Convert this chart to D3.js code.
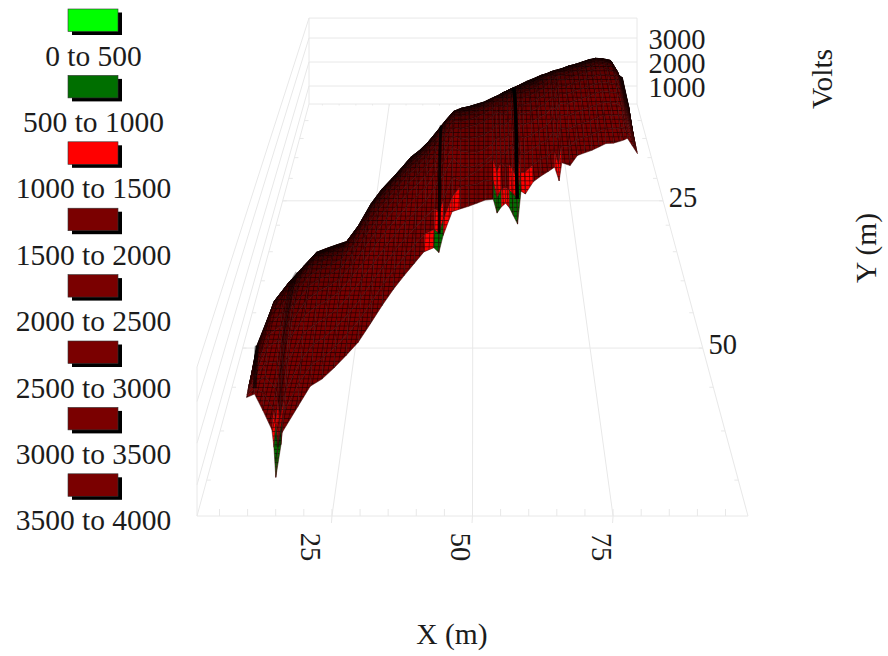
<!DOCTYPE html>
<html>
<head>
<meta charset="utf-8">
<script src="https://cdnjs.cloudflare.com/ajax/libs/d3/7.8.5/d3.min.js"></script>
<style>
  html,body { margin:0; padding:0; background:#fff; }
  text { font-family: "Liberation Serif", serif; font-size: 29.5px; fill: #1c1c1c; }
  text.tick { font-size: 28.5px; }
</style>
</head>
<body>
<div id="chart"></div>
<script>
// legend bands
const legendLabels = ["0 to 500","500 to 1000","1000 to 1500","1500 to 2000","2000 to 2500","2500 to 3000","3000 to 3500","3500 to 4000"];
const bandColors = ["#00ff00","#006f00","#ff0000","#7a0000","#7a0000","#7a0000","#7a0000","#7a0000"];
const bandLimits = [500,1000,1500,2000,2500,3000,3500];

const xTicks = [25,50,75];
const xTickShift = [-21,-12,-12];
const yTicks = [25,50];
const voltTicks = [1000,2000,3000];

// surface: one station per X (m), each running from backY to frontY (m)
const stationX = [7,9,11,13,13.5,14,14.5,15,17,19,21,23,25,27,29,31,33,35,37,39,41,42,43,45,47,49,51,53,55,56,57,58,59,60,61,62,63,65,67,69,71,72,73,75,77,79,81,83,85,87,89,90,91,92,93];
const backY = [60.1,61.8,56.6,53.2,52.6,51.9,51.55,50.8,48.9,48.4,47.9,47.5,44.7,40.7,38,36.1,34,31.7,30.3,28.4,26.2,25.1,23.7,21.6,20.4,20,19.4,18.9,18,17.7,17,16.2,15.8,15.3,14.8,14.5,13.9,12.9,12.1,11.2,10.8,10.1,10.1,9.3,8.5,8,7.3,6.6,6.2,6.4,7,11.45,15,17.6,17.5];
const frontY = [62,63.1,64.2,65,65.3,65.7,64.5,65.3,62.8,61.6,60.8,59.5,58,56.4,54,51.5,49.2,47.2,45.3,43.4,40,37.6,37.3,34,35.8,35.3,34.7,33.5,32.2,30.8,31.9,33,32.1,31.3,31.8,29.9,30.8,30.4,29.2,28.2,25.4,26.5,24.4,25.3,24.6,24,23.4,22.6,21.8,21.7,21.2,20.9,20.5,21.7,22.9];
// volts at the 15 nodes of each station, back to front
const stationVolts = [
  [1500,1550,1600,1620,1640,1650,1660,1660,1660,1650,1640,1630,1620,1610,1600],
  [2500,2700,2900,2950,2900,2850,2800,2700,2600,2500,2400,2300,2200,2080,1950],
  [2750,2980,3210,3330,3400,3440,3420,3360,3250,3100,2900,2650,2400,2100,1800],
  [2760,2980,3200,3330,3440,3510,3530,3480,3350,3180,3000,2600,2150,1800,1510],
  [2760,2980,3200,3325,3435,3505,3525,3475,3345,3165,2950,2550,1900,1500,1145],
  [2760,2980,3200,3320,3430,3500,3520,3470,3340,3150,2900,2500,1500,1000,500],
  [2760,2980,3200,3320,3430,3505,3525,3475,3350,3165,2925,2550,1900,1500,1010],
  [2760,2980,3200,3320,3430,3510,3530,3480,3360,3180,2950,2600,2100,1800,1510],
  [2760,2980,3200,3330,3440,3520,3550,3510,3400,3240,3030,2750,2300,1950,1550],
  [2760,2980,3200,3330,3440,3520,3560,3530,3430,3280,3080,2800,2480,2150,1800],
  [2760,2980,3200,3330,3440,3520,3560,3530,3440,3290,3090,2820,2500,2160,1800],
  [2770,2990,3200,3330,3440,3520,3550,3520,3430,3290,3090,2830,2510,2170,1800],
  [2780,2990,3200,3320,3430,3510,3550,3520,3440,3300,3100,2840,2520,2170,1800],
  [2790,3000,3200,3320,3430,3510,3550,3530,3440,3300,3100,2840,2530,2180,1800],
  [2800,3000,3200,3320,3430,3510,3550,3530,3440,3300,3100,2840,2530,2180,1800],
  [2800,3000,3200,3320,3430,3510,3550,3530,3440,3300,3100,2840,2530,2180,1800],
  [2800,3000,3200,3320,3430,3510,3550,3520,3430,3290,3090,2830,2520,2170,1800],
  [2810,3010,3200,3320,3420,3500,3540,3520,3430,3290,3090,2830,2520,2170,1800],
  [2810,3010,3200,3320,3420,3500,3530,3510,3420,3280,3080,2820,2510,2170,1800],
  [2820,3010,3200,3310,3420,3500,3530,3500,3410,3270,3060,2790,2480,2150,1800],
  [2820,3010,3200,3310,3410,3480,3510,3480,3380,3220,3000,2720,2200,1700,1300],
  [2840,3020,3200,3310,3400,3470,3490,3450,3340,3170,2940,2640,1700,1150,700],
  [2840,3020,3200,3310,3400,3470,3490,3460,3360,3200,2970,2680,2050,1550,1200],
  [2860,3030,3200,3310,3410,3480,3510,3490,3390,3240,3020,2760,2250,1750,1400],
  [2880,3040,3200,3320,3430,3510,3550,3520,3430,3250,3000,2700,2350,2350,1800],
  [2880,3040,3200,3320,3430,3510,3550,3530,3440,3200,2900,2550,2450,2300,1800],
  [2880,3040,3200,3320,3430,3510,3550,3530,3420,3150,2800,2520,2500,2250,1800],
  [2880,3040,3200,3320,3430,3510,3550,3530,3420,3100,2750,2500,2550,2200,1700],
  [2880,3040,3200,3320,3430,3510,3550,3530,3420,3100,2750,2550,2550,1950,1510],
  [2880,3040,3200,3320,3430,3510,3550,3530,3430,3150,2800,2500,1900,1150,800],
  [2880,3040,3200,3320,3430,3510,3550,3530,3440,3200,2850,2550,2350,1600,1200],
  [2880,3040,3200,3320,3430,3510,3550,3530,3440,3220,2900,2600,2350,1850,1510],
  [2880,3040,3200,3320,3430,3510,3550,3530,3440,3260,2950,2650,2300,1600,1200],
  [2880,3040,3200,3320,3420,3500,3530,3510,3420,3270,3020,2700,2000,1350,800],
  [2880,3040,3200,3310,3410,3480,3510,3480,3390,3230,3000,2300,1750,1250,600],
  [2880,3040,3200,3320,3420,3500,3530,3510,3420,3280,3070,2780,2400,1850,1400],
  [2880,3040,3200,3320,3430,3510,3550,3530,3440,3300,3100,2820,2450,2000,1450],
  [2880,3040,3200,3320,3430,3510,3550,3530,3440,3300,3100,2840,2530,2180,1800],
  [2880,3040,3200,3320,3430,3510,3550,3530,3440,3300,3100,2840,2530,2180,1800],
  [2880,3040,3200,3320,3430,3510,3550,3530,3440,3300,3100,2840,2500,2150,1800],
  [2880,3040,3200,3320,3430,3510,3540,3510,3420,3270,3060,2800,2450,1950,1510],
  [2880,3040,3200,3320,3430,3510,3540,3510,3410,3250,3030,2740,2300,1600,1200],
  [2880,3040,3200,3320,3430,3510,3540,3510,3420,3270,3060,2790,2430,1950,1510],
  [2880,3040,3200,3320,3430,3510,3550,3520,3430,3290,3090,2820,2500,2050,1550],
  [2880,3040,3200,3320,3430,3510,3550,3530,3440,3300,3100,2840,2530,2180,1800],
  [2880,3040,3200,3320,3430,3510,3550,3530,3440,3300,3100,2840,2530,2180,1800],
  [2880,3040,3200,3320,3430,3510,3550,3530,3440,3300,3100,2840,2530,2180,1800],
  [2880,3040,3200,3320,3430,3510,3550,3530,3440,3300,3100,2840,2530,2180,1800],
  [2880,3040,3200,3320,3430,3510,3550,3520,3430,3290,3090,2830,2520,2170,1800],
  [2880,3040,3200,3320,3420,3490,3520,3490,3400,3260,3060,2800,2500,2160,1800],
  [2880,3040,3200,3300,3380,3430,3440,3400,3310,3180,3000,2750,2450,2130,1800],
  [3000,3130,3270,3330,3360,3370,3340,3270,3170,3050,2900,2700,2450,2150,1800],
  [3300,3230,3160,3060,2950,2840,2730,2620,2510,2400,2290,2180,2060,1930,1800],
  [2600,2580,2550,2500,2440,2380,2320,2260,2200,2140,2070,2000,1920,1820,1700],
  [1700,1680,1670,1660,1650,1645,1640,1635,1630,1625,1620,1615,1610,1605,1600]
];
// stations where the mesh folds over into a dark band
const darkStations = [42,61,14,9];
const darkWidths = [3,3.6,5,4];
const darkOpacity = [0.85,1,0.3,0.6];
// how much the mesh crowds together (and so darkens) at each row, back to front
const rowShade = [0.95,0.95,0.92,0.8,0.62,0.46,0.32,0.2,0.12,0.06,0,0,0,0];

const width = 888, height = 656;

const svg = d3.select("#chart").append("svg")
  .attr("width", width).attr("height", height);
const defs = svg.append("defs");

// perspective box: back and front edges of the floor
const xBack = d3.scaleLinear().domain([1,99]).range([309,637]);
const xFront = d3.scaleLinear().domain([1,99]).range([197,748]);
const depth = d3.scaleLinear().domain([0,68.3]).range([0,1]);
const floorRow = d3.scaleLinear().domain([0,1]).range([104,516]);
const zBack = d3.scaleLinear().domain([250,1250]).range([0,24]);
const zFront = d3.scaleLinear().domain([250,1250]).range([0,41.6]);
const band = d3.scaleThreshold().domain(bandLimits).range(bandColors);

const foreshorten = 1.88;
const project = (x, y, v) => {
  const d = depth(y);
  const f = d / (d + (1 - d) * foreshorten);
  return [
    xBack(x) + (xFront(x) - xBack(x)) * f,
    floorRow(f) - (zBack(v) + (zFront(v) - zBack(v)) * f)
  ];
};

const vMin = 250, vMax = 3830, xMin = 1, xMax = 99, yMin = 0, yMax = 68.3;
const line = d3.line();
const gridCol = "#e8e8e8";

// box and grid
const grid = svg.append("g").attr("fill","none").attr("stroke",gridCol).attr("stroke-width",1);
const seg = (a, b) => grid.append("path").attr("d", line([project(...a), project(...b)]));

seg([xMin,yMin,vMin],[xMax,yMin,vMin]);
seg([xMin,yMax,vMin],[xMax,yMax,vMin]);
seg([xMin,yMin,vMin],[xMin,yMax,vMin]);
seg([xMax,yMin,vMin],[xMax,yMax,vMin]);
seg([xMin,yMin,vMin],[xMin,yMin,vMax]);
seg([xMax,yMin,vMin],[xMax,yMin,vMax]);
seg([xMin,yMax,vMin],[xMin,yMax,vMax]);
seg([xMin,yMin,vMax],[xMax,yMin,vMax]);
seg([xMin,yMin,vMax],[xMin,yMax,vMax]);

voltTicks.forEach(v => {
  seg([xMin,yMin,v],[xMax,yMin,v]);
  seg([xMin,yMin,v],[xMin,yMax,v]);
});
xTicks.forEach(x => {
  seg([x,yMin,vMin],[x,yMax,vMin]);
  const p = project(x,yMax,vMin);
  grid.append("path").attr("d", line([p,[p[0]-0.5,p[1]+7]]));
});
yTicks.forEach(y => {
  seg([xMin,y,vMin],[xMax,y,vMin]);
});
// minor ticks, 5 m along the front and back
d3.range(5,99,5).forEach(x => {
  const p = project(x,yMax,vMin);
  grid.append("path").attr("d", line([p,[p[0],p[1]-7]]));
  const q = project(x,yMin,vMin);
  grid.append("path").attr("d", line([q,[q[0],q[1]+1.5]]));
});
d3.range(5,68,5).forEach(y => {
  const p = project(xMin,y,vMin);
  grid.append("path").attr("d", line([p,[p[0]+4,p[1]]]));
  const q = project(xMax,y,vMin);
  grid.append("path").attr("d", line([q,[q[0]-4,q[1]]]));
});

// fine mesh texture, slanted like the X lines of the floor at that spot
const meshFill = (x, colour) => {
  const a = project(x,yMin,vMin), b = project(x,yMax,vMin);
  const angle = Math.round(Math.atan2(a[0]-b[0], b[1]-a[1]) * 180 / Math.PI / 3) * 3;
  const id = "mesh" + colour.slice(1) + "_" + (angle + 90);
  if (defs.select("#" + id).empty()) {
    const pat = defs.append("pattern").attr("id",id).attr("patternUnits","userSpaceOnUse")
      .attr("width",4.6).attr("height",4.4)
      .attr("patternTransform",`skewX(${-angle})`);
    pat.append("rect").attr("width",4.6).attr("height",4.4).attr("fill",colour);
    pat.append("path").attr("d","M0 0V4.4M0 0H4.6").attr("stroke","#000")
      .attr("stroke-width",1.1).attr("stroke-opacity",0.8);
  }
  return `url(#${id})`;
};

// surface cells, painted back row first
const nodes = stationX.map((x,i) => stationVolts[i].map((v,j) => {
  const y = backY[i] + (frontY[i] - backY[i]) * j / (stationVolts[i].length - 1);
  return {p: project(x,y,v), v: v};
}));

const surface = svg.append("g").style("filter","blur(0.4px)");
d3.range(14).forEach(j => {
  d3.range(stationX.length - 1).forEach(i => {
    const c = [nodes[i][j], nodes[i+1][j], nodes[i+1][j+1], nodes[i][j+1]];
    const d = line(c.map(n => n.p)) + "Z";
    const colour = band(d3.min(c, n => n.v));
    surface.append("path").attr("d",d)
      .attr("fill", meshFill(stationX[i], colour))
      .attr("stroke", "#3a0000").attr("stroke-width",0.5);
    if (rowShade[j] > 0) {
      surface.append("path").attr("d",d).attr("fill","#000").attr("fill-opacity",rowShade[j])
        .attr("stroke","#000").attr("stroke-opacity",rowShade[j]).attr("stroke-width",0.5);
    }
  });
});

darkStations.forEach((x,k) => {
  const i = stationX.indexOf(x);
  surface.append("path")
    .attr("d", line(nodes[i].slice(2,14).map(n => n.p)))
    .attr("fill","none")
    .attr("stroke","#000")
    .attr("stroke-width",darkWidths[k])
    .attr("stroke-opacity",darkOpacity[k]);
});

// legend
const legend = svg.append("g");
legendLabels.forEach((d,i) => {
  const top = 9 + i * 66.4;
  legend.append("rect").attr("x",72).attr("y",top+3.5).attr("width",50).attr("height",22.5).attr("fill","#000");
  legend.append("rect").attr("x",68).attr("y",top).attr("width",50).attr("height",22.5)
    .attr("fill",bandColors[i]).attr("stroke","#333").attr("stroke-width",0.6);
  legend.append("text").attr("x",93.5).attr("y",top+56.5).attr("text-anchor","middle").text(d);
});

// tick labels and titles
voltTicks.forEach(v => {
  svg.append("text").attr("class","tick").attr("x",677).attr("y",87 - (v-1000)*0.024 + 9.5).attr("text-anchor","middle").text(v);
});
yTicks.forEach(y => {
  const p = project(xMax,y,vMin);
  svg.append("text").attr("class","tick").attr("x",p[0]+20).attr("y",p[1]+6).attr("text-anchor","middle").text(y);
});
xTicks.forEach((x,i) => {
  const p = project(x,yMax,vMin);
  svg.append("text").attr("class","tick")
    .attr("transform",`translate(${p[0]+xTickShift[i]},${p[1]+31}) rotate(90)`)
    .attr("x",0).attr("y",9.5).attr("text-anchor","middle").text(x);
});
svg.append("text").attr("x",452).attr("y",644).attr("text-anchor","middle").text("X (m)");
svg.append("text").attr("transform","translate(832,79) rotate(-90)").attr("text-anchor","middle").text("Volts");
svg.append("text").attr("transform","translate(876,248) rotate(-90)").attr("text-anchor","middle").text("Y (m)");
</script>
</body>
</html>
